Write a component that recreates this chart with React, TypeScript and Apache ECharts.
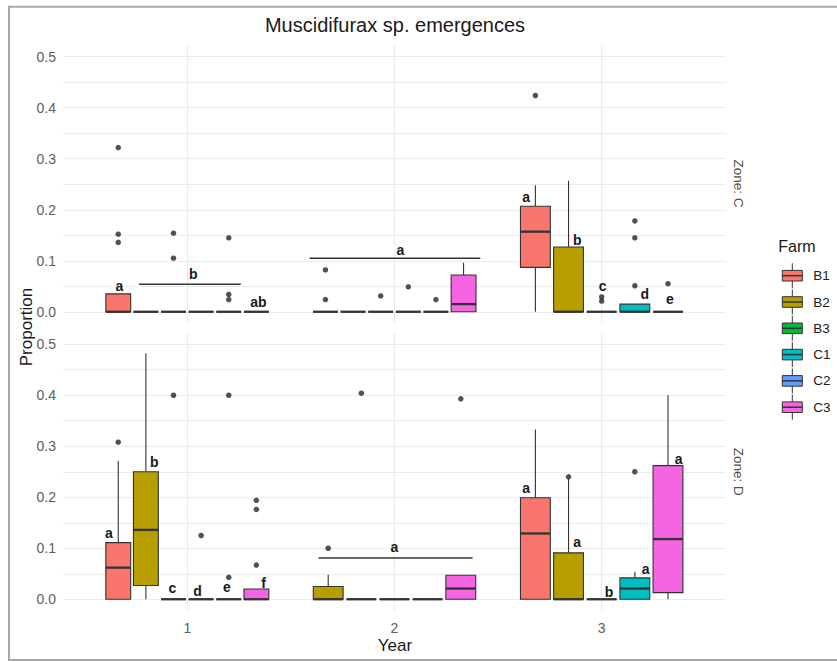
import React, { useEffect, useRef } from "react";
import * as echarts from "echarts";

const FONT = "'Liberation Sans', Arial, Helvetica, sans-serif";
const STROKE = "#333333";

const farms = ["B1", "B2", "B3", "C1", "C2", "C3"];
const farmColors = ["#F8766D", "#B79F00", "#00BA38", "#00BFC4", "#619CFF", "#F564E3"];
const years = [1, 2, 3];
const zoneLabels = ["Zone: C", "Zone: D"];
const yLabelValues = [0, 0.1, 0.2, 0.3, 0.4, 0.5];
const yGridValues = [0, 0.05, 0.1, 0.15, 0.2, 0.25, 0.3, 0.35, 0.4, 0.45, 0.5];

// box stats: [lower whisker, Q1, median, Q3, upper whisker]
const zoneCYear1Farms = ["B1", "B2", "B3", "C1", "C2", "C3"];
const zoneCYear1Stats = [[0, 0, 0, 0.035, 0.035], [0, 0, 0, 0, 0], [0, 0, 0, 0, 0], [0, 0, 0, 0, 0], [0, 0, 0, 0, 0], [0, 0, 0, 0, 0]];
const zoneCYear1Outliers = [[0.322, 0.152, 0.136], [], [0.154, 0.105], [], [0.145, 0.034, 0.024], []];

const zoneCYear2Farms = ["B1", "B2", "B3", "C1", "C2", "C3"];
const zoneCYear2Stats = [[0, 0, 0, 0, 0], [0, 0, 0, 0, 0], [0, 0, 0, 0, 0], [0, 0, 0, 0, 0], [0, 0, 0, 0, 0], [0, 0, 0.015, 0.072, 0.096]];
const zoneCYear2Outliers = [[0.082, 0.024], [], [0.031], [0.049], [0.024], []];

const zoneCYear3Farms = ["B1", "B2", "B3", "C1", "C3"];
const zoneCYear3Stats = [[0, 0.087, 0.157, 0.207, 0.248], [0, 0, 0, 0.127, 0.257], [0, 0, 0, 0, 0], [0, 0, 0, 0.015, 0.015], [0, 0, 0, 0, 0]];
const zoneCYear3Outliers = [[0.424], [], [0.029, 0.021], [0.178, 0.145, 0.051], [0.055]];

const zoneDYear1Farms = ["B1", "B2", "B3", "C1", "C2", "C3"];
const zoneDYear1Stats = [[0, 0, 0.062, 0.111, 0.271], [0, 0.027, 0.136, 0.25, 0.482], [0, 0, 0, 0, 0], [0, 0, 0, 0, 0], [0, 0, 0, 0, 0], [0, 0, 0, 0.02, 0.02]];
const zoneDYear1Outliers = [[0.308], [], [0.4], [0.125], [0.4, 0.043], [0.194, 0.176, 0.067]];

const zoneDYear2Farms = ["B2", "B3", "C1", "C2", "C3"];
const zoneDYear2Stats = [[0, 0, 0, 0.025, 0.048], [0, 0, 0, 0, 0], [0, 0, 0, 0, 0], [0, 0, 0, 0, 0], [0, 0, 0.021, 0.047, 0.047]];
const zoneDYear2Outliers = [[0.1], [0.404], [], [], [0.393]];

const zoneDYear3Farms = ["B1", "B2", "B3", "C1", "C3"];
const zoneDYear3Stats = [[0, 0, 0.129, 0.199, 0.333], [0, 0, 0, 0.091, 0.236], [0, 0, 0, 0, 0], [0, 0, 0.021, 0.042, 0.054], [0, 0.013, 0.118, 0.262, 0.4]];
const zoneDYear3Outliers = [[], [0.24], [], [0.25], []];

// significance letters: [x (Year scale), y (Proportion), letter]
const zoneCLetters: [number, number, string][] = [
  [0.672, 0.05, "a"], [1.029, 0.074, "b"], [1.343, 0.02, "ab"],
  [2.028, 0.121, "a"],
  [2.635, 0.2255, "a"], [2.882, 0.141, "b"], [3.005, 0.05, "c"], [3.208, 0.035, "d"], [3.329, 0.025, "e"],
];
const zoneDLetters: [number, number, string][] = [
  [0.622, 0.13, "a"], [0.84, 0.269, "b"], [0.928, 0.022, "c"], [1.049, 0.016, "d"], [1.191, 0.025, "e"], [1.368, 0.0325, "f"],
  [2.0, 0.103, "a"],
  [2.635, 0.219, "a"], [2.882, 0.112, "a"], [3.036, 0.015, "b"], [3.212, 0.059, "a"], [3.372, 0.275, "a"],
];
// grouping lines: [x start, x end, y]
const zoneCBrackets = [[0.767, 1.258, 0.054], [1.59, 2.414, 0.105]];
const zoneDBrackets = [[1.633, 2.377, 0.081]];

const zoneGroups: [string[], number[][], number[][]][][] = [
  [
    [zoneCYear1Farms, zoneCYear1Stats, zoneCYear1Outliers],
    [zoneCYear2Farms, zoneCYear2Stats, zoneCYear2Outliers],
    [zoneCYear3Farms, zoneCYear3Stats, zoneCYear3Outliers],
  ],
  [
    [zoneDYear1Farms, zoneDYear1Stats, zoneDYear1Outliers],
    [zoneDYear2Farms, zoneDYear2Stats, zoneDYear2Outliers],
    [zoneDYear3Farms, zoneDYear3Stats, zoneDYear3Outliers],
  ],
];
const zoneLetters = [zoneCLetters, zoneDLetters];
const zoneBrackets = [zoneCBrackets, zoneDBrackets];

const DODGE = 0.8;
const BOX_FRAC = 0.9;

function buildZone(zone: number) {
  const boxes: number[][] = [];
  const pts: number[][] = [];
  zoneGroups[zone].forEach(([fs, st, out], yi) => {
    const n = fs.length;
    const slot = DODGE / n;
    fs.forEach((f, i) => {
      const xc = years[yi] + (i - (n - 1) / 2) * slot;
      const ci = farms.indexOf(f);
      boxes.push([xc, (slot * BOX_FRAC) / 2, ...st[i], ci]);
      out[i].forEach((v) => pts.push([xc, v]));
    });
  });
  return { boxes, pts };
}

const boxRender = (_params: any, api: any) => {
  const xc = api.value(0);
  const hw = api.value(1);
  const lo = api.value(2);
  const q1 = api.value(3);
  const md = api.value(4);
  const q3 = api.value(5);
  const hi = api.value(6);
  const ci = api.value(7);
  const pTL = api.coord([xc - hw, q3]);
  const pBR = api.coord([xc + hw, q1]);
  const pM = api.coord([xc, md]);
  const yHi = api.coord([xc, hi])[1];
  const yLo = api.coord([xc, lo])[1];
  const children: any[] = [];
  if (hi > q3) children.push({ type: "line", shape: { x1: pM[0], y1: pTL[1], x2: pM[0], y2: yHi }, style: { stroke: STROKE, lineWidth: 1.1 } });
  if (lo < q1) children.push({ type: "line", shape: { x1: pM[0], y1: pBR[1], x2: pM[0], y2: yLo }, style: { stroke: STROKE, lineWidth: 1.1 } });
  children.push({
    type: "rect",
    shape: { x: pTL[0], y: pTL[1], width: pBR[0] - pTL[0], height: pBR[1] - pTL[1] },
    style: { fill: farmColors[ci], stroke: STROKE, lineWidth: 1.1 },
  });
  children.push({ type: "line", shape: { x1: pTL[0], y1: pM[1], x2: pBR[0], y2: pM[1] }, style: { stroke: STROKE, lineWidth: 2.3 } });
  return { type: "group", children };
};

const gridRects = [
  { left: 63, top: 44.5, width: 663, height: 279.5 },
  { left: 63, top: 332, width: 663, height: 279.5 },
];

function txt(text: string, x: number, y: number, size: number, fill: string, extra: any = {}) {
  return {
    type: "text",
    x,
    y,
    silent: true,
    ...extra,
    style: {
      text,
      fill,
      fontSize: size,
      fontFamily: FONT,
      textAlign: extra.align || "center",
      align: extra.align || "center",
      textVerticalAlign: "middle",
      verticalAlign: "middle",
      fontWeight: extra.fontWeight || "normal",
    },
  };
}

export default function App() {
  const ref = useRef<HTMLDivElement>(null);
  useEffect(() => {
    if (!ref.current) return;
    const chart = echarts.init(ref.current, null, { renderer: "svg" });
    const series: any[] = [];
    const xAxes: any[] = [];
    const yAxes: any[] = [];
    [0, 1].forEach((z) => {
      const { boxes, pts } = buildZone(z);
      xAxes.push({
        type: "value",
        gridIndex: z,
        min: 0.4,
        max: 3.6,
        axisLine: { show: false },
        axisTick: { show: false, customValues: years },
        axisLabel: {
          show: z === 1,
          customValues: years,
          formatter: (v: number) => String(v),
          color: "#5E5E5E",
          fontSize: 14,
          fontFamily: FONT,
          margin: 9,
        },
        splitLine: { show: true, lineStyle: { color: "#EBEBEB", width: 1 } },
      });
      yAxes.push({
        type: "value",
        gridIndex: z,
        min: -0.024,
        max: 0.524,
        axisLine: { show: false },
        axisTick: { show: false, customValues: yGridValues },
        axisLabel: {
          customValues: yLabelValues,
          formatter: (v: number) => v.toFixed(1),
          color: "#5E5E5E",
          fontSize: 14,
          fontFamily: FONT,
          margin: 7,
        },
        splitLine: { show: true, lineStyle: { color: "#EBEBEB", width: 1 } },
      });
      series.push({
        type: "custom",
        name: "boxes" + z,
        xAxisIndex: z,
        yAxisIndex: z,
        data: boxes,
        encode: { x: 0, y: 4 },
        renderItem: boxRender,
        z: 2,
        silent: true,
      });
      series.push({
        type: "scatter",
        name: "outliers" + z,
        xAxisIndex: z,
        yAxisIndex: z,
        data: pts,
        symbol: "circle",
        symbolSize: 5.5,
        itemStyle: { color: "#262626" },
        z: 3,
        silent: true,
      });
      series.push({
        type: "custom",
        name: "brackets" + z,
        xAxisIndex: z,
        yAxisIndex: z,
        data: zoneBrackets[z],
        encode: { x: [0, 1], y: 2 },
        renderItem: (_p: any, api: any) => {
          const a = api.coord([api.value(0), api.value(2)]);
          const b = api.coord([api.value(1), api.value(2)]);
          return { type: "line", shape: { x1: a[0], y1: a[1], x2: b[0], y2: b[1] }, style: { stroke: STROKE, lineWidth: 1.5 } };
        },
        z: 3,
        silent: true,
      });
      const letters = zoneLetters[z];
      series.push({
        type: "custom",
        name: "letters" + z,
        xAxisIndex: z,
        yAxisIndex: z,
        data: letters.map((l) => [l[0], l[1]]),
        encode: { x: 0, y: 1 },
        renderItem: (p: any, api: any) => {
          const c = api.coord([api.value(0), api.value(1)]);
          return {
            type: "text",
            x: c[0],
            y: c[1],
            style: {
              text: letters[p.dataIndex][2],
              fill: "#1A1A1A",
              fontSize: 14,
              fontWeight: "bold",
              fontFamily: FONT,
              textAlign: "center",
              align: "center",
              textVerticalAlign: "middle",
              verticalAlign: "middle",
            },
          };
        },
        z: 4,
        silent: true,
      });
    });

    const legendItems: any[] = [];
    farms.forEach((f, i) => {
      const yc = 275.7 + i * 26.3;
      legendItems.push({ type: "line", silent: true, shape: { x1: 792.3, y1: yc - 12.5, x2: 792.3, y2: yc + 12.5 }, style: { stroke: STROKE, lineWidth: 1 } });
      legendItems.push({ type: "rect", silent: true, shape: { x: 782.3, y: yc - 5.3, width: 20, height: 10.6 }, style: { fill: farmColors[i], stroke: STROKE, lineWidth: 1 } });
      legendItems.push({ type: "line", silent: true, shape: { x1: 782.3, y1: yc, x2: 802.3, y2: yc }, style: { stroke: STROKE, lineWidth: 1.5 } });
      legendItems.push(txt(f, 813.3, yc, 13.5, "#1A1A1A", { align: "left" }));
    });

    const option: any = {
      animation: false,
      backgroundColor: "#FFFFFF",
      grid: gridRects.map((g) => ({ ...g, containLabel: false })),
      xAxis: xAxes,
      yAxis: yAxes,
      series,
      graphic: [
        { type: "line", silent: true, shape: { x1: 8, y1: 6.7, x2: 837, y2: 6.7 }, style: { stroke: "#A8A8A8", lineWidth: 2 } },
        { type: "line", silent: true, shape: { x1: 9, y1: 6, x2: 9, y2: 661 }, style: { stroke: "#A8A8A8", lineWidth: 2 } },
        { type: "line", silent: true, shape: { x1: 8, y1: 660, x2: 837, y2: 660 }, style: { stroke: "#A8A8A8", lineWidth: 2 } },
        txt("Muscidifurax sp. emergences", 395, 25, 20, "#1A1A1A"),
        txt("Year", 395, 645.5, 17, "#1A1A1A"),
        txt("Proportion", 26, 327, 17, "#1A1A1A", { rotation: Math.PI / 2 }),
        txt(zoneLabels[0], 738.3, 183.5, 13.5, "#4D4D4D", { rotation: -Math.PI / 2 }),
        txt(zoneLabels[1], 738.3, 471.7, 13.5, "#4D4D4D", { rotation: -Math.PI / 2 }),
        txt("Farm", 778.3, 246.7, 16, "#1A1A1A", { align: "left" }),
        ...legendItems,
      ],
    };
    chart.setOption(option);
    return () => chart.dispose();
  }, []);
  return <div ref={ref} style={{ position: "absolute", left: 0, top: 0, width: 837, height: 662 }} />;
}
